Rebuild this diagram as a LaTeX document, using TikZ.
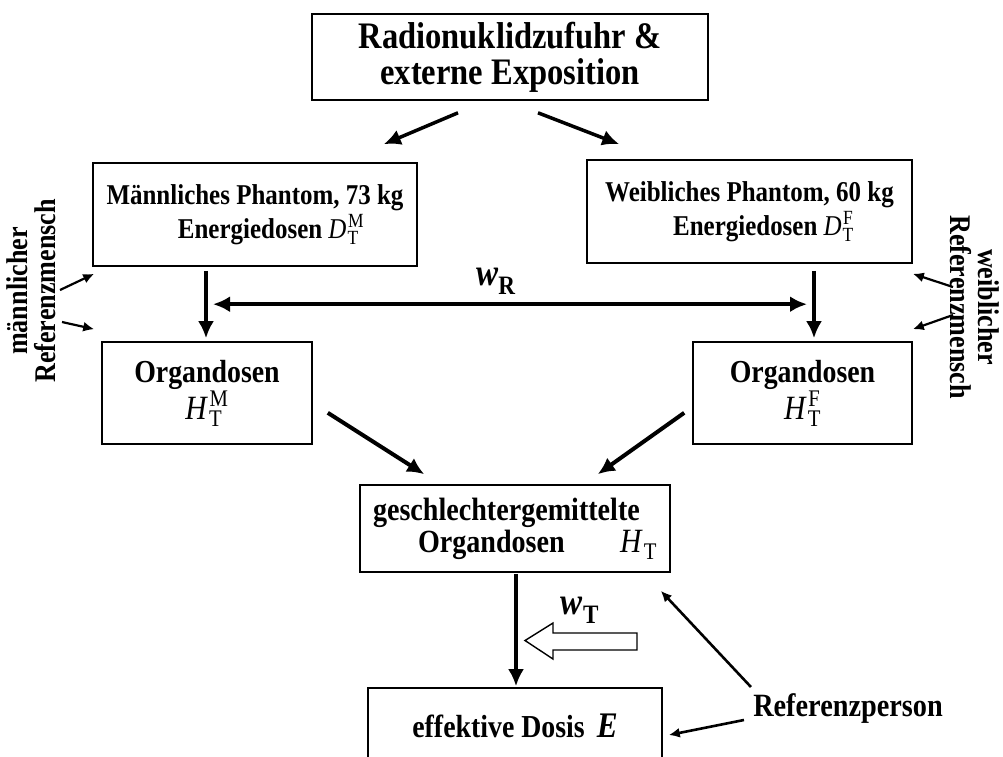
\documentclass[tikz,border=0pt]{standalone}
\usepackage{amsmath}
\usepackage{fontspec}
\setmainfont{Liberation Serif}[FakeStretch=0.87]
\usepackage{tikz}
\usetikzlibrary{arrows.meta,calc}

\newcommand{\dsym}[3]{$\textnormal{\itshape #1\/}^{\kern1.5pt\textnormal{#2}}_{\kern1pt\textnormal{#3}}$}

\begin{document}
\begin{tikzpicture}[x=1pt,y=-1pt,>={Latex[length=17pt,width=16pt]},semithick]
\tikzstyle{every node}=[font=\bfseries]
\tikzstyle{box}=[draw=black,line width=1.6pt,inner sep=0pt,align=center]
\tikzstyle{bigarrow}=[->,line width=4pt]
\tikzstyle{smallarrow}=[-{Latex[length=11pt,width=10pt]},line width=2.2pt]
\tikzstyle{sidelabel}=[align=center,inner sep=0pt,font=\bfseries\fontsize{30}{28}\selectfont]
\useasboundingbox (0,0) rectangle (1003,756);
\clip (0,0) rectangle (1003,756);

\node[box,minimum width=396,minimum height=86,font=\bfseries\fontsize{37.4}{36}\selectfont] (top) at (510,57) {Radionuklidzufuhr \&\\externe Exposition};
\node[box,minimum width=324,minimum height=103,font=\bfseries\fontsize{28.7}{34}\selectfont] (male) at (255,214.5) {Männliches Phantom, 73 kg\\\hspace*{32pt}Energiedosen \dsym{D}{M}{T}};
\node[box,minimum width=325,minimum height=103,font=\bfseries\fontsize{28.7}{34}\selectfont] (female) at (749.5,211.5) {Weibliches Phantom, 60 kg\\\hspace*{28pt}Energiedosen \dsym{D}{F}{T}};
\node[box,minimum width=210,minimum height=102,font=\bfseries\fontsize{32}{37}\selectfont] (orgM) at (207,393) {Organdosen\\{\fontsize{34}{37}\selectfont\dsym{H}{M}{T}}};
\node[box,minimum width=219,minimum height=102,font=\bfseries\fontsize{32}{37}\selectfont] (orgF) at (802.5,393) {Organdosen\\{\fontsize{34}{37}\selectfont\dsym{H}{F}{T}}};
\node[box,minimum width=310,minimum height=87,text width=284,align=left,font=\bfseries\fontsize{32.3}{32}\selectfont] (avg) at (515,528.5) {geschlechtergemittelte\\\hspace*{45pt}Organdosen\hfill{\fontsize{34}{32}\selectfont$\textnormal{\itshape H\/}_{\kern1pt\textnormal{T}}$}};
\node[box,minimum width=294,minimum height=76,font=\bfseries\fontsize{32}{30}\selectfont] (eff) at (515,726) {effektive Dosis\hspace{12pt}{\fontsize{36}{30}\selectfont\textit{E}}};

\node[sidelabel,rotate=90] (mref) at (31,291) {männlicher\\Referenzmensch};
\node[sidelabel,rotate=-90] (fref) at (975,307) {weiblicher\\Referenzmensch};
\node[inner sep=0pt,font=\bfseries\fontsize{32.5}{30}\selectfont] (ref) at (848,709) {Referenzperson};
\node[inner sep=0pt,font=\fontsize{38}{36}\selectfont] (wR) at (496,281) {$\textbf{\textit{w}}_{\textbf{R}}$};
\node[inner sep=0pt,font=\fontsize{38}{36}\selectfont] (wT) at (580,610) {$\textbf{\textit{w}}_{\textbf{T}}$};

\draw[bigarrow,line width=3.5pt] ($(top.south)+(-52,12)$) -- ($(male.north east)+(-34,-18)$);
\draw[bigarrow,line width=3.5pt] ($(top.south)+(28,12)$) -- ($(female.north west)+(33,-15)$);
\draw[bigarrow] ($(orgM.north |- male.south)+(-1,4)$) -- ($(orgM.north)+(-1,-3)$);
\draw[bigarrow] ($(orgF.north |- female.south)+(11.5,7)$) -- ($(orgF.north)+(11.5,-3)$);
\draw[bigarrow,<->] ($(orgM.north)+(6,-37)$) -- ($(orgF.north)+(4.5,-37)$);
\draw[bigarrow] ($(orgM.south east)+(15,-32)$) -- ($(avg.north west)+(65,-10)$);
\draw[bigarrow] ($(orgF.south west)+(-8,-32)$) -- ($(avg.north east)+(-73,-10)$);
\draw[bigarrow] ($(avg.south)+(1,1)$) -- ($(eff.north)+(1,-1)$);

\draw[smallarrow] ($(mref)+(29,-1)$) -- ($(male.south west)+(2,7)$);
\draw[smallarrow] ($(mref)+(31,31)$) -- ($(orgM.north west)+(-7,-12)$);
\draw[smallarrow] ($(fref)+(-22,-20)$) -- ($(female.south east)+(0,10)$);
\draw[smallarrow] ($(fref)+(-22,8)$) -- ($(orgF.north east)+(0,-12)$);
\draw[smallarrow,line width=2.6pt] ($(ref.west)+(-2,-22)$) -- ($(avg.south east)+(-10,18)$);
\draw[smallarrow,line width=2.6pt] ($(ref.west)+(-9,11)$) -- ($(eff.east)+(6,9)$);

\draw[line width=1.4pt] (637,633) -- (553,633) -- (553,623) -- (525,640.5) -- (553,659) -- (553,650) -- (637,650) -- cycle;
\end{tikzpicture}
\end{document}
